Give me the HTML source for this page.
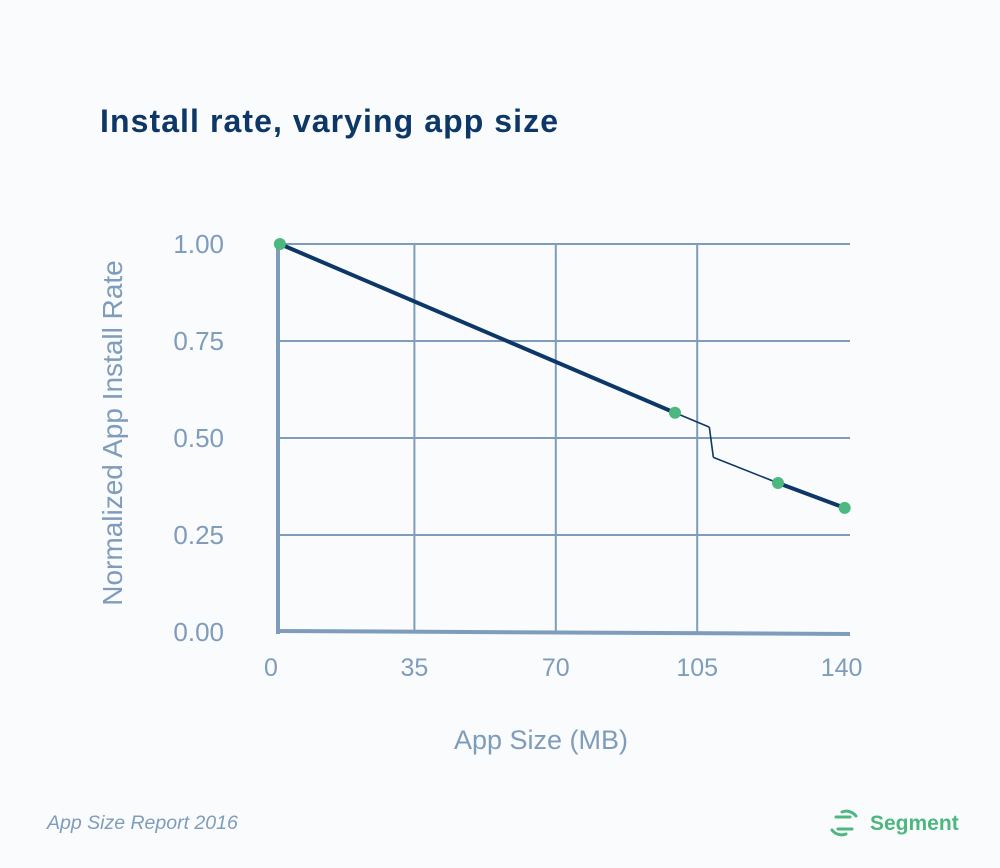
<!DOCTYPE html>
<html><head><meta charset="utf-8"><style>
body{margin:0;background:#f9fbfd;font-family:"Liberation Sans",sans-serif;}
#wrap{position:relative;width:1000px;height:868px;overflow:hidden;background:#f9fbfd;}
</style></head><body>
<div id="wrap">
<svg id="chart" width="1000" height="868">
<text x="100" y="132" font-size="32" font-weight="bold" fill="#0d3766" textLength="458">Install rate, varying app size</text>
<g id="grid"></g><g id="series"></g>
<text transform="translate(122,433) rotate(-90)" text-anchor="middle" font-size="28" fill="#7f9cbb">Normalized App Install Rate</text>
<text x="541" y="749" text-anchor="middle" font-size="27" fill="#7f9cbb">App Size (MB)</text>
<text x="47" y="829" font-size="19.5" font-style="italic" fill="#7f9cbb">App Size Report 2016</text>
<g stroke="#4cb87f" stroke-width="3" fill="none" stroke-linecap="round">
<path d="M836 817 h14 M838 829 h14 M842 812 a12 12 0 0 1 14 4 M846 834 a12 12 0 0 1 -14 -4"/>
</g>
<text x="870" y="830" font-size="21" font-weight="bold" fill="#4cb87f">Segment</text>
</svg>
</div>
<script>
const xValues=[1.7,99.5,108,109,125,141.5];
const yValues=[1.0,0.565,0.528,0.45,0.384,0.32];
const markerIdx=[0,1,4,5];
const thickSegments=[0,4];
const xTicks=[0,35,70,105,140];
const yTicks=[0,0.25,0.5,0.75,1.0];
const yTickLabels=["0.00","0.25","0.50","0.75","1.00"];
const NS="http://www.w3.org/2000/svg";
const X=v=>273+v*4.04, Y=v=>632-v*388;
function mk(t,a,p){const e=document.createElementNS(NS,t);for(const k in a)e.setAttribute(k,a[k]);p.appendChild(e);return e;}
const g=document.getElementById('grid'), s=document.getElementById('series');
yTicks.forEach((v,i)=>{
 if(v>0){const l=mk('line',{x1:278,x2:850,y1:Y(v),y2:Y(v),stroke:'#7f9cbb','stroke-width':2},g);
 
 }
 const t=mk('text',{x:224,y:Y(v)+9,'text-anchor':'end','font-size':26,fill:'#7f9cbb'},g);t.textContent=yTickLabels[i];
 
 
});
xTicks.forEach(v=>{
 if(v>0&&v<140){const l=mk('line',{x1:X(v),x2:X(v),y1:Y(1),y2:632,stroke:'#7f9cbb','stroke-width':2},g);
 
 }
 const t=mk('text',{x:X(v)-(v==0?2:0)+(v==140?3:0),y:676,'text-anchor':'middle','font-size':25,fill:'#7f9cbb'},g);t.textContent=v;
 
 
});
const ya=mk('line',{x1:278,x2:278,y1:Y(1),y2:634,stroke:'#7f9cbb','stroke-width':4},g);


const xa=mk('line',{x1:276,x2:850,y1:631,y2:634,stroke:'#7f9cbb','stroke-width':4},g);


for(let i=0;i<xValues.length-1;i++){
 const th=thickSegments.includes(i);
 const l=mk('line',{x1:X(xValues[i]),y1:Y(yValues[i]),x2:X(xValues[i+1]),y2:Y(yValues[i+1]),stroke:'#0d3766','stroke-width':th?4:1.6},s);
 
 
}
markerIdx.forEach(i=>{
 const c=mk('circle',{cx:X(xValues[i]),cy:Y(yValues[i]),r:6,fill:'#4cb87f'},s);
 
 
});
</script>
</body></html>
